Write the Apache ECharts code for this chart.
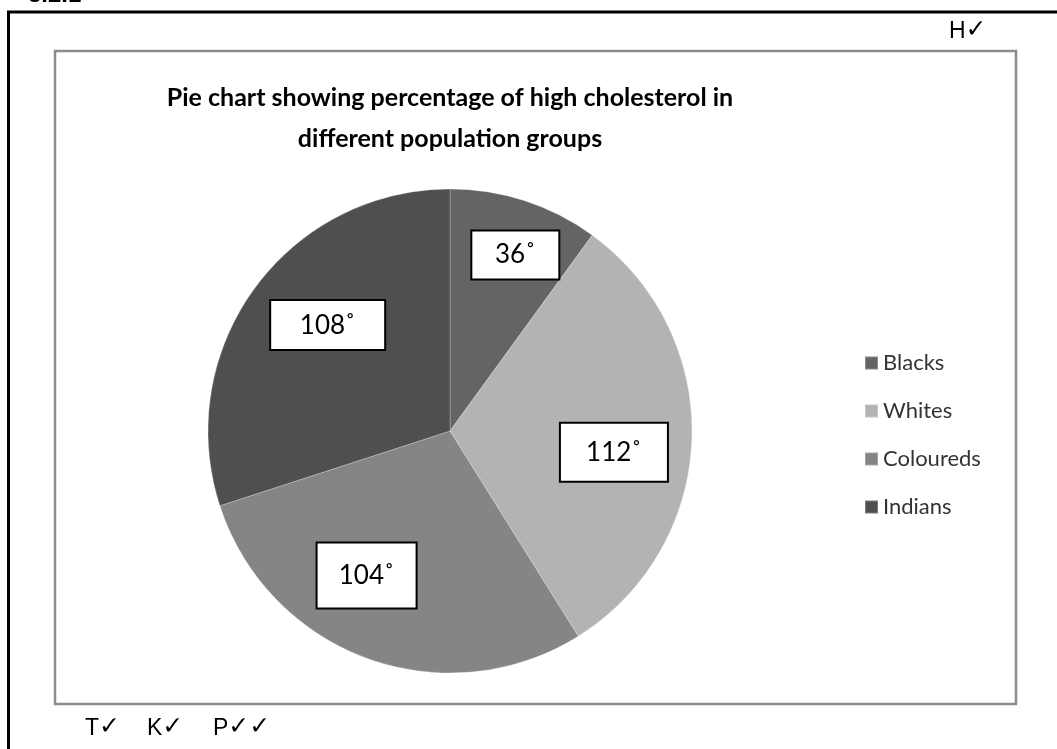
<!DOCTYPE html>
<html><head><meta charset="utf-8">
<script src="https://cdn.jsdelivr.net/npm/echarts@6/dist/echarts.min.js"></script>
<style>html,body{margin:0;padding:0;background:#fff}#c{width:1057px;height:749px}</style>
</head><body><div id="c"></div>
<script>
const categories = ['Blacks', 'Whites', 'Coloureds', 'Indians'];
const angles = [36, 112, 104, 108];
const labelTexts = ['36˚', '112˚', '104˚', '108˚'];
const colors = ['#646464', '#b3b3b3', '#858585', '#4f4f4f'];
const titleLines = ['Pie chart showing percentage of high cholesterol in', 'different population groups'];
const markLetters = ['T', 'K', 'P'];
const markChecks = ['✓', '✓', '✓✓'];
const cornerLetter = 'H';
const cornerCheck = '✓';
const sectionNo = '3.2.1';

// layout constants (not data)
const labelOffsets = [[27, -58], [40, 17], [-41, 28], [-22, -33]];
const labelBoxes = [[86, 47], [106, 57], [98, 64], [113, 48]];
const markX = [85, 147, 213];

const chart = echarts.init(document.getElementById('c'), null, {renderer: 'canvas'});
const txt = (t, x, y, size, extra) => ({
  type: 'text', x: x, y: y,
  style: Object.assign({text: t, fontSize: size, fontFamily: 'Liberation Sans', fill: '#000', textVerticalAlign: 'middle'}, extra || {})
});
const richMark = (letter, check, x, y) => ({
  type: 'text', x: x, y: y,
  style: {
    text: '{a|' + letter + '}{b|' + check + '}',
    textVerticalAlign: 'middle',
    rich: {
      a: {fontSize: 23, fontFamily: 'Liberation Sans', color: '#000', verticalAlign: 'bottom', lineHeight: 26},
      b: {fontSize: 25, fontFamily: 'DejaVu Sans', color: '#000', verticalAlign: 'bottom', lineHeight: 26}
    }
  }
});
const option = {
  animation: false,
  backgroundColor: '#fff',
  color: colors,
  legend: {
    orient: 'vertical',
    left: 859,
    top: 347,
    icon: 'rect',
    itemWidth: 13,
    itemHeight: 13,
    itemGap: 26,
    data: categories,
    selectedMode: false,
    textStyle: {fontFamily: 'Lato', fontSize: 22, color: '#333', lineHeight: 20}
  },
  series: [{
    type: 'pie',
    center: [450, 431],
    radius: 242,
    startAngle: 90,
    clockwise: true,
    silent: true,
    label: {
      show: true,
      position: 'inside',
      fontFamily: 'Lato',
      fontSize: 26,
      color: '#000',
      backgroundColor: '#fff',
      borderColor: '#000',
      borderWidth: 2,
      align: 'center',
      verticalAlign: 'middle'
    },
    labelLayout: function (p) {
      const o = labelOffsets[p.dataIndex];
      return {dx: o[0], dy: o[1]};
    },
    itemStyle: {borderColor: 'rgba(255,255,255,0.25)', borderWidth: 1},
    data: categories.map((n, i) => ({
      name: n,
      value: angles[i],
      label: {
        formatter: labelTexts[i],
        width: labelBoxes[i][0],
        height: labelBoxes[i][1],
        lineHeight: labelBoxes[i][1]
      }
    }))
  }],
  graphic: [
    {type: 'polyline', shape: {points: [[8.5, 760], [8.5, 12], [1060, 12]]}, style: {stroke: '#000', lineWidth: 3, fill: null}},
    {type: 'rect', shape: {x: 55, y: 51, width: 961, height: 653}, style: {stroke: '#8c8c8c', lineWidth: 2.5, fill: null}, z: -1},
    txt(sectionNo, 28, -5, 24, {fontWeight: 'bold'}),
    txt(titleLines[0], 450, 98, 25, {fontFamily: 'Lato', fontWeight: 'bold', textAlign: 'center'}),
    txt(titleLines[1], 450, 139, 25, {fontFamily: 'Lato', fontWeight: 'bold', textAlign: 'center'}),
    richMark(cornerLetter, cornerCheck, 949, 30)
  ].concat(markLetters.map((t, i) => richMark(t, markChecks[i], markX[i], 727)))
};
chart.setOption(option);
</script>
</body></html>
